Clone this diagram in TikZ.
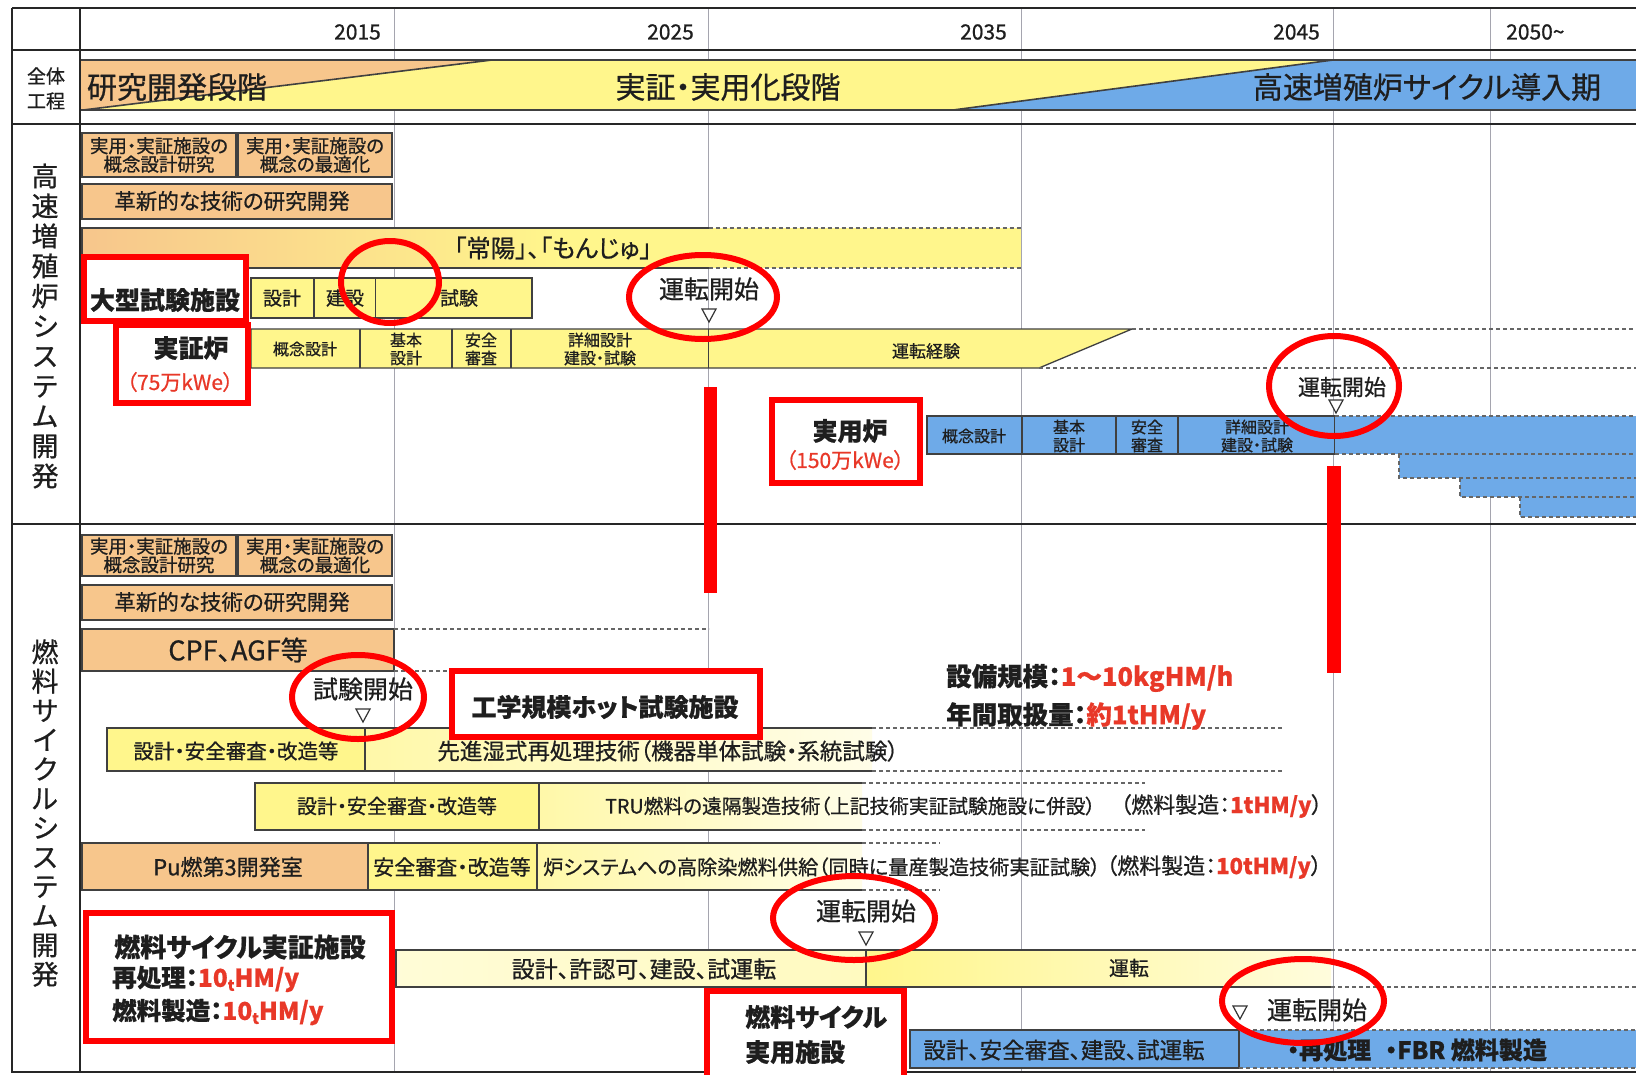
\documentclass[tikz,border=0pt]{standalone}
\usepackage{fontspec}
\setmainfont{Noto Sans CJK JP}[FakeBold=0.7, RawFeature=+palt]
\newcommand{\fsz}[2]{\fontsize{#1}{#2}\selectfont}
\newcommand{\tsub}{{\fsz{15}{15}\raisebox{-4pt}{t}}}
\definecolor{corange}{RGB}{247,198,140}
\definecolor{cyellow}{RGB}{255,246,140}
\definecolor{cblue}{RGB}{110,170,232}
\definecolor{cred}{RGB}{255,0,0}
\definecolor{ctxtred}{RGB}{232,56,40}
\definecolor{cgrid}{RGB}{165,165,175}
\definecolor{cink}{RGB}{30,30,30}
\begin{document}
\begin{tikzpicture}[x=1pt,y=-1pt,
  gridline/.style={draw=cgrid, line width=1},
  frameline/.style={draw=black!85, line width=2.5},
  barline/.style={draw=black!75, line width=1.3},
  dashline/.style={draw=black!60, line width=1.6, dash pattern=on 4pt off 3pt},
  redbox/.style={draw=cred, line width=6, fill=white},
  redring/.style={draw=cred, line width=6},
  txt/.style={text=cink, inner sep=0pt},
  sm/.style={txt, align=center, font=\fsz{16}{18}},
  two/.style={txt, align=center, font=\fsz{18.5}{18.5}},
  mid/.style={txt, font=\fsz{20}{24}},
  big/.style={txt, font=\fsz{25}{29}\bfseries},
  run/.style={txt, font=\fsz{25}{29}},
  redt/.style={text=ctxtred, inner sep=0pt, font=\fsz{21}{24}},
  vert/.style={txt, align=center, font=\fsz{27}{30}},
  tri/.style={draw=black!80, fill=white, line width=1.2}
]
\fill[white] (0,0) rectangle (1636,1074);
\useasboundingbox (0,0) rectangle (1636,1074);

% ---------- grid ----------
\foreach \gx in {394,708.5,1021.5,1333,1490} \draw[gridline] (\gx,8) -- (\gx,1072);

% ---------- header ----------
\node[txt, anchor=east, font=\fsz{21}{24}] (y2015) at (381,32) {2015};
\node[txt, anchor=east, font=\fsz{21}{24}] (y2025) at (694,32) {2025};
\node[txt, anchor=east, font=\fsz{21}{24}] (y2035) at (1007,32) {2035};
\node[txt, anchor=east, font=\fsz{21}{24}] (y2045) at (1320,32) {2045};
\node[txt, anchor=west, font=\fsz{21}{24}] (y2050) at (1506,32) {2050\textasciitilde};

% ---------- overall row ----------
\fill[corange] (80,60) -- (492,60) -- (83,110) -- (80,110) -- cycle;
\fill[cyellow] (492,60) -- (1333,60) -- (953,110) -- (83,110) -- cycle;
\fill[cblue] (1333,60) -- (1636,60) -- (1636,110) -- (953,110) -- cycle;
\draw[barline, line width=1.6] (80,60) -- (1636,60) (80,110) -- (1636,110);
\draw[barline, line width=1.6] (83,110) -- (492,60) (953,110) -- (1333,60);
\node[txt, font=\fsz{19}{22}] (zen1) at (46,76) {全体};
\node[txt, font=\fsz{19}{22}] (zen2) at (46,101) {工程};
\node[txt, font=\fsz{30}{34}] (ph1) at (177,87) {研究開発段階};
\node[txt, font=\fsz{30}{34}] (ph2) at (728,87) {実証・実用化段階};
\node[txt, font=\fsz{30}{34}] (ph3) at (1427,87) {高速増殖炉サイクル導入期};

% ---------- frame ----------
\draw[frameline] (12,8) -- (1636,8);
\draw[frameline] (12,8) -- (12,1072) -- (1636,1072);
\draw[frameline, line width=2] (80,8) -- (80,1072);
\draw[frameline, line width=2.2] (12,50) -- (1636,50);
\draw[frameline, line width=2.2] (12,124) -- (1636,124);
\draw[frameline, line width=2.5] (12,524) -- (1636,524);

\node[vert] (sec1) at (45,326) {高\\速\\増\\殖\\炉\\シ\\ス\\テ\\ム\\開\\発};
\node[vert, font=\fsz{27}{29.3}] (sec2) at (45,813) {燃\\料\\サ\\イ\\ク\\ル\\シ\\ス\\テ\\ム\\開\\発};

% =========== Section 1 ===========
\draw[barline, fill=corange] (82,133) rectangle (236,177);
\draw[barline, fill=corange] (238,133) rectangle (392,177);
\node[two] (fa1) at (159,155) {実用・実証施設の\\概念設計研究};
\node[two] (fa2) at (315,155) {実用・実証施設の\\概念の最適化};
\draw[barline, fill=corange] (82,184) rectangle (392,219);
\node[mid, font=\fsz{21.5}{24}] (fb1) at (232,201) {革新的な技術の研究開発};

% Joyo / Monju
\shade[left color=corange, right color=cyellow] (82,228) rectangle (560,268);
\fill[cyellow] (560,228) rectangle (1021,268);
\draw[barline] (708.5,228) -- (82,228) -- (82,268) -- (708.5,268);
\draw[dashline] (708.5,228) -- (1021,228) (708.5,268) -- (1021,268);
\node[mid, font=\fsz{24.5}{28}] (joyo) at (553,248) {「常陽」、「もんじゅ」};

% large test facility
\draw[barline, fill=cyellow] (251,278) rectangle (532,318);
\draw[barline] (314,278) -- (314,318) (375.5,278) -- (375.5,318);
\node[txt, font=\fsz{19}{22}] (lt1) at (282,298) {設計};
\node[txt, font=\fsz{19}{22}] (lt2) at (345,298) {建設};
\node[txt, font=\fsz{19}{22}] (lt3) at (459,298) {試験};

% demo reactor
\draw[barline, fill=cyellow] (251,329) -- (1132,329) -- (1039,368) -- (251,368) -- cycle;
\draw[barline] (360,329) -- (360,368) (452,329) -- (452,368) (511,329) -- (511,368) (708.5,329) -- (708.5,368);
\draw[dashline] (1132,329) -- (1636,329) (1039,368) -- (1636,368);
\node[sm] (dr1) at (305,349) {概念設計};
\node[sm] (dr2) at (406,349) {基本\\設計};
\node[sm] (dr3) at (481,349) {安全\\審査};
\node[sm] (dr4) at (600,349) {詳細設計\\建設・試験};
\node[sm, font=\fsz{17}{19}] (dr5) at (926,351) {運転経験};
\draw[tri] (702,309) -- (716,309) -- (709,322) -- cycle;
\node[run] (op1) at (709,289) {運転開始};

% practical reactor
\draw[barline, fill=cblue] (927,416) rectangle (1335,454);
\fill[cblue] (1335,416) rectangle (1636,454);
\fill[cblue] (1399,454) rectangle (1636,478);
\fill[cblue] (1460,478) rectangle (1636,497);
\fill[cblue] (1520,497) rectangle (1636,517);
\draw[barline] (1022,416) -- (1022,454) (1116,416) -- (1116,454) (1178,416) -- (1178,454);
\draw[dashline] (1335,416) -- (1636,416) (1335,454) -- (1636,454);
\draw[dashline] (1399,454) -- (1399,478) -- (1636,478);
\draw[dashline] (1460,478) -- (1460,497) -- (1636,497);
\draw[dashline] (1520,497) -- (1520,517) -- (1636,517);
\node[sm] (pr1) at (974,436) {概念設計};
\node[sm] (pr2) at (1069,436) {基本\\設計};
\node[sm] (pr3) at (1147,436) {安全\\審査};
\node[sm] (pr4) at (1257,436) {詳細設計\\建設・試験};
\draw[tri] (1329,400) -- (1343,400) -- (1336,413) -- cycle;
\node[txt, font=\fsz{22}{26}] (op2) at (1342,387) {運転開始};

% =========== Section 2 ===========
\draw[barline, fill=corange] (82,535) rectangle (236,576);
\draw[barline, fill=corange] (238,535) rectangle (392,576);
\node[two] (ga1) at (159,555.5) {実用・実証施設の\\概念設計研究};
\node[two] (ga2) at (315,555.5) {実用・実証施設の\\概念の最適化};
\draw[barline, fill=corange] (82,585) rectangle (392,620);
\node[mid, font=\fsz{21.5}{24}] (gb1) at (232,602) {革新的な技術の研究開発};

\draw[barline, fill=corange] (82,629) rectangle (394,671);
\draw[dashline] (394,629) -- (709,629) (394,671) -- (709,671);
\node[txt, font=\fsz{27}{30}] (cpf) at (238,650) {CPF、AGF等};

% advanced aqueous reprocessing
\fill[cyellow] (107,728) rectangle (365,771);
\shade[left color=cyellow!75, right color=cyellow!20] (365,728) rectangle (872,771);
\draw[barline] (872,728) -- (107,728) -- (107,771) -- (872,771);
\draw[barline] (365,728) -- (365,771);
\draw[dashline] (872,728) -- (1283,728) (872,771) -- (1283,771);
\node[txt, font=\fsz{20.5}{22}] (aq1) at (236,751) {設計・安全審査・改造等};
\node[mid, font=\fsz{22.5}{24}] (aq2) at (668,751) {先進湿式再処理技術（機器単体試験・系統試験）};
\draw[tri] (356,709) -- (370,709) -- (363,722) -- cycle;
\node[run] (ts1) at (363,689) {試験開始};

% TRU fuel
\fill[cyellow] (255,783) rectangle (539,830);
\shade[left color=cyellow!75, right color=cyellow!20] (539,783) rectangle (862,830);
\draw[barline] (862,783) -- (255,783) -- (255,830) -- (862,830);
\draw[barline] (539,783) -- (539,830);
\draw[dashline] (862,783) -- (1145,783) (862,830) -- (1145,830);
\node[txt, font=\fsz{20}{22}] (tr1) at (397,806) {設計・安全審査・改造等};
\node[txt, anchor=west, font=\fsz{19.7}{22}] (tr2) at (605,806) {TRU燃料の遠隔製造技術（上記技術実証試験施設に併設）};
\node[txt, anchor=west, font=\fsz{22}{24}] (tr3) at (1120,806) {（燃料製造：\textcolor{ctxtred}{\bfseries 1tHM/y}）};

% Pu fuel
\fill[corange] (82,843) rectangle (368,890);
\fill[cyellow] (368,843) rectangle (537,890);
\shade[left color=cyellow!75, right color=cyellow!20] (537,843) rectangle (862,890);
\draw[barline] (862,843) -- (82,843) -- (82,890) -- (862,890);
\draw[barline] (368,843) -- (368,890) (537,843) -- (537,890);
\draw[dashline] (862,843) -- (940,843) (862,890) -- (940,890);
\node[mid, font=\fsz{22}{24}] (pu1) at (228,867) {Pu燃第3開発室};
\node[mid, font=\fsz{21}{24}] (pu2) at (452,867) {安全審査・改造等};
\node[txt, anchor=west, font=\fsz{20.2}{22}] (pu3) at (543,867) {炉システムへの高除染燃料供給（同時に量産製造技術実証試験）};
\node[txt, anchor=west, font=\fsz{22}{24}] (pu4) at (1106,867) {（燃料製造：\textcolor{ctxtred}{\bfseries 10tHM/y}）};

% demo fuel-cycle facility
\shade[left color=cyellow!35, right color=cyellow!55] (396,950) rectangle (866,987);
\shade[left color=cyellow, right color=cyellow!30] (866,950) rectangle (1331,987);
\draw[barline] (1331,950) -- (396,950) -- (396,987) -- (1331,987);
\draw[barline] (866,950) -- (866,987);
\draw[dashline] (1331,950) -- (1636,950) (1331,987) -- (1636,987);
\node[mid, font=\fsz{23}{26}] (df1) at (644,969) {設計、許認可、建設、試運転};
\node[mid] (df2) at (1129,968) {運転};
\draw[tri] (859,932) -- (873,932) -- (866,945) -- cycle;
\node[run] (op3) at (866,911) {運転開始};

% practical fuel-cycle facility
\fill[cblue] (910,1030) rectangle (1636,1068);
\draw[barline] (1239,1030) -- (910,1030) -- (910,1068) -- (1239,1068);
\draw[barline] (1239,1030) -- (1239,1068);
\draw[dashline] (1239,1030) -- (1636,1030) (1239,1068) -- (1636,1068);
\node[mid, font=\fsz{22.5}{26}] (pf1) at (1064,1050) {設計、安全審査、建設、試運転};
\node[txt, anchor=west, font=\fsz{24}{27}\bfseries] (pf2) at (1287,1050) {・再処理\hspace{14pt}・FBR 燃料製造};
\draw[tri] (1233,1006) -- (1247,1006) -- (1240,1019) -- cycle;
\node[run] (op4) at (1317,1010) {運転開始};

% scale text
\node[txt, anchor=west, font=\fsz{25.5}{28}\bfseries] (sc1) at (946,678) {設備規模：\textcolor{ctxtred}{1～10kgHM/h}};
\node[txt, anchor=west, font=\fsz{25.5}{28}\bfseries] (sc2) at (946,716) {年間取扱量：\textcolor{ctxtred}{約1tHM/y}};

% =========== red annotations ===========
\draw[redbox] (84,257) rectangle (246,321);
\node[big] (lbl1) at (165,300) {大型試験施設};
\draw[redbox] (116,325) rectangle (248,403);
\node[big] (lbl2) at (191,348) {実証炉};
\node[redt] (lbl2b) at (180,382) {（75万kWe）};
\draw[redring] (390,282) ellipse [x radius=49pt, y radius=41pt];
\draw[redring] (703,297) ellipse [x radius=74pt, y radius=42pt];
\fill[cred] (704,387) rectangle (717,593);

\draw[redbox] (772,400) rectangle (920,483);
\node[big] (lbl3) at (850,431) {実用炉};
\node[redt] (lbl3b) at (845,460) {（150万kWe）};
\draw[redring] (1334,386) ellipse [x radius=65pt, y radius=50pt];
\fill[cred] (1327,466) rectangle (1341,673);

\draw[redring] (358,697) ellipse [x radius=66pt, y radius=42pt];
\draw[redbox] (452,671) rectangle (760,737);
\node[big] (lbl4) at (605,707) {工学規模ホット試験施設};

\draw[redring] (854,918) ellipse [x radius=81pt, y radius=42pt];
\draw[redbox] (86,913) rectangle (392,1041);
\node[big, font=\fsz{26}{29}\bfseries] (lbl5) at (240,947) {燃料サイクル実証施設};
\node[big, anchor=west, font=\fsz{24.5}{28}\bfseries] (lbl5b) at (112,979) {再処理：\textcolor{ctxtred}{10\tsub HM/y}};
\node[big, anchor=west, font=\fsz{24.5}{28}\bfseries] (lbl5c) at (112,1012) {燃料製造：\textcolor{ctxtred}{10\tsub HM/y}};

\draw[redbox] (707,991) rectangle (904,1080);
\node[big, anchor=west] (lbl6) at (745,1017) {燃料サイクル};
\node[big, anchor=west] (lbl6b) at (745,1052) {実用施設};
\draw[redring] (1303,1001) ellipse [x radius=81pt, y radius=42pt];
\end{tikzpicture}
\end{document}
